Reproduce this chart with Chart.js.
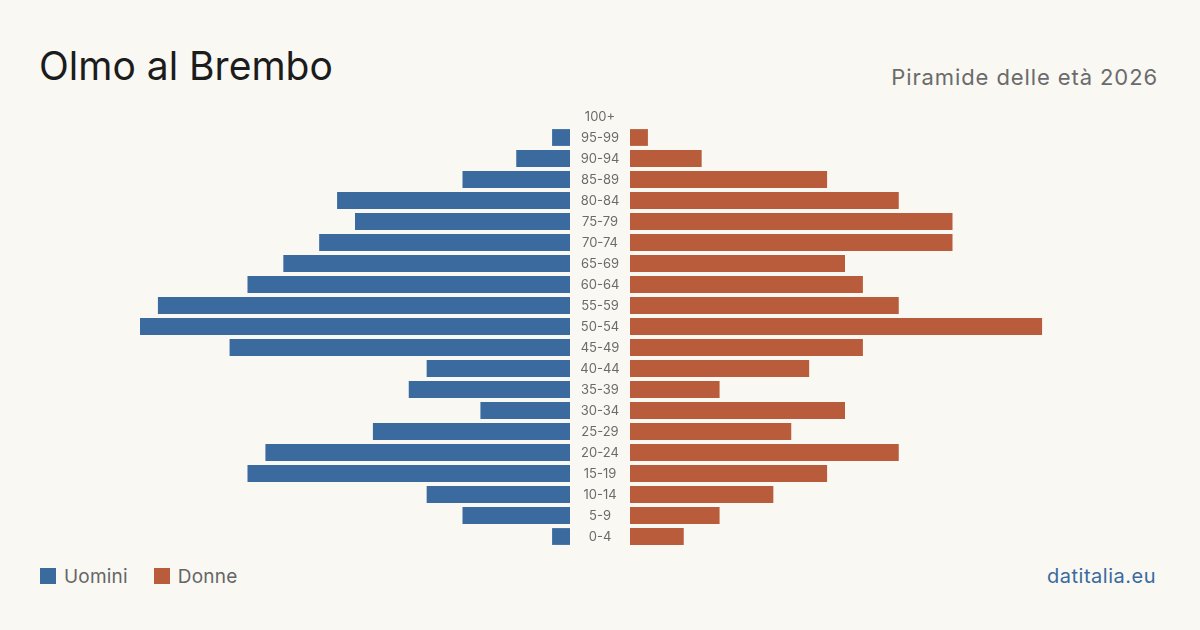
<!DOCTYPE html>
<html>
<head>
<meta charset="utf-8">
<script src="https://cdn.jsdelivr.net/npm/chart.js@4.4.1/dist/chart.umd.min.js"></script>
<style>
  html, body { margin: 0; padding: 0; }
  body {
    width: 1200px; height: 630px; position: relative; overflow: hidden;
    background: #f9f8f3; font-family: Inter, "Noto Sans", sans-serif;
  }
  .title { position: absolute; left: 39px; top: 46px; font-size: 39px; line-height: 1; color: #1c1c1c; }
  .subtitle { position: absolute; right: 42px; top: 66px; font-size: 22px; line-height: 1; color: #6b6b6b; letter-spacing: 0.9px; }
  .legend { position: absolute; left: 40px; top: 567px; font-size: 19px; line-height: 1; color: #666; letter-spacing: 0.2px; }
  .legend span.sw { display: inline-block; width: 16px; height: 16px; vertical-align: -1px; margin-right: 8px; }
  .legend span.item { margin-right: 26px; }
  .source { position: absolute; right: 44px; top: 566px; font-size: 20px; line-height: 1; color: #3a6a9e; letter-spacing: 0.5px; }
  #left { position: absolute; left: 140px; top: 106px; }
  #right { position: absolute; left: 630px; top: 106px; }
</style>
</head>
<body>
<div class="title">Olmo al Brembo</div>
<div class="subtitle">Piramide delle età 2026</div>
<div class="legend"><span class="item"><span class="sw" style="background:#3a6a9e"></span>Uomini</span><span class="item"><span class="sw" style="background:#b95c3c"></span>Donne</span></div>
<div class="source">datitalia.eu</div>
<div id="left" style="width:490px;height:441px"><canvas id="leftChart"></canvas></div>
<div id="right" style="width:430px;height:441px"><canvas id="rightChart"></canvas></div>
<script>
// age classes, youngest first (drawn bottom to top)
const ageClasses = ["0-4", "5-9", "10-14", "15-19", "20-24", "25-29", "30-34", "35-39", "40-44", "45-49",
  "50-54", "55-59", "60-64", "65-69", "70-74", "75-79", "80-84", "85-89", "90-94", "95-99", "100+"];
const men = [1, 6, 8, 18, 17, 11, 5, 9, 8, 19, 24, 23, 18, 16, 14, 12, 13, 6, 3, 1, 0];
const women = [3, 5, 8, 11, 15, 9, 12, 5, 10, 13, 23, 15, 13, 12, 18, 18, 15, 11, 4, 1, 0];
const axisMax = 24;

const MEN_COLOR = "#3a6a9e";
const WOMEN_COLOR = "#b95c3c";

// draws the age labels in the gap right of the men's plot area
const ageLabels = {
  id: "ageLabels",
  afterDraw(chart) {
    const { ctx, chartArea } = chart;
    const y = chart.scales.y;
    const cx = (chartArea.right + chart.width) / 2;
    ctx.save();
    ctx.font = "13px Inter, 'Noto Sans', sans-serif";
    ctx.fillStyle = "#6b6b6b";
    ctx.textAlign = "center";
    ctx.textBaseline = "middle";
    ageClasses.forEach((label, i) => {
      ctx.fillText(label, cx, y.getPixelForValue(i) + 1);
    });
    ctx.restore();
  },
};

function makeChart(canvas, values, color, reversed, extra) {
  return new Chart(canvas, {
    type: "bar",
    data: {
      labels: ageClasses,
      datasets: [{ data: values, backgroundColor: color, barPercentage: 0.8, categoryPercentage: 1 }],
    },
    options: {
      indexAxis: "y",
      responsive: true,
      maintainAspectRatio: false,
      animation: false,
      layout: { padding: extra },
      plugins: { legend: { display: false }, tooltip: { enabled: false } },
      scales: {
        x: { display: false, min: 0, max: axisMax, reverse: reversed },
        y: { display: false, reverse: true },
      },
    },
    plugins: reversed ? [ageLabels] : [],
  });
}

makeChart(document.querySelector("#leftChart"), men, MEN_COLOR, true, { right: 60 });
makeChart(document.querySelector("#rightChart"), women, WOMEN_COLOR, false, 0);
</script>
</body>
</html>
